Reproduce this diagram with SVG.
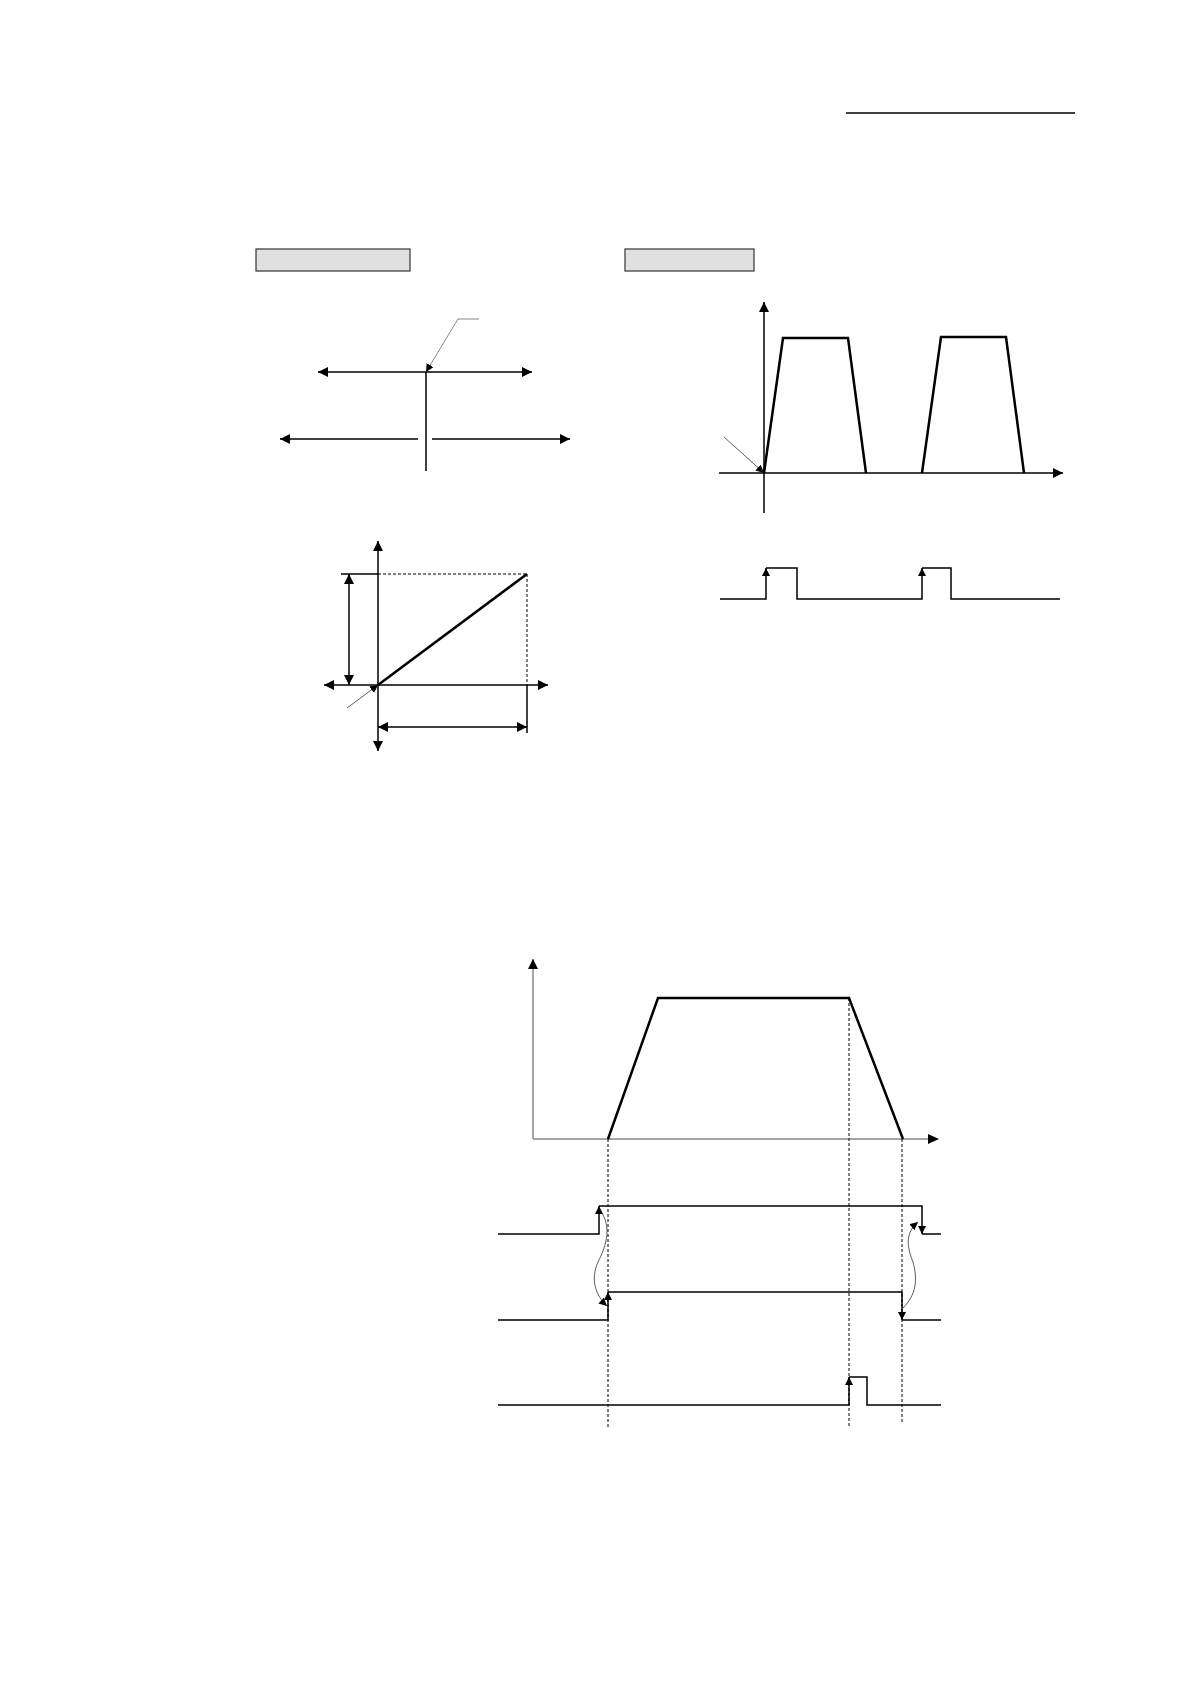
<svg xmlns="http://www.w3.org/2000/svg" width="1190" height="1684" viewBox="0 0 1190 1684">
<style>
.ln{fill:none;stroke:#000;stroke-width:1.5}
.thk{fill:none;stroke:#000;stroke-width:2.5;stroke-linejoin:miter}
.thin{fill:none;stroke:#333;stroke-width:0.8}
.gray{fill:none;stroke:#888;stroke-width:1.5}
.dash{fill:none;stroke:#000;stroke-width:1;stroke-dasharray:3,2}
.box{fill:#e0e0e0;stroke:#333;stroke-width:1.2}
</style>
<defs>
<marker id="ah" viewBox="0 0 10 10" refX="10" refY="5" markerWidth="10" markerHeight="10" markerUnits="userSpaceOnUse" orient="auto-start-reverse"><path d="M0,0 L10,5 L0,10 z" fill="#000"/></marker>
<marker id="as" viewBox="0 0 10 10" refX="10" refY="5" markerWidth="8" markerHeight="8" markerUnits="userSpaceOnUse" orient="auto-start-reverse"><path d="M0,0 L10,5 L0,10 z" fill="#000"/></marker>
</defs>
<line x1="846" y1="113" x2="1075" y2="113" stroke="#000" stroke-width="1.5"/>
<g id="box1"><rect class="box" x="256" y="249" width="154" height="22"/></g>
<g id="box2"><rect class="box" x="625" y="249" width="129" height="22"/></g>
<g id="fig1">
<line class="ln" x1="318" y1="372" x2="532" y2="372" marker-start="url(#ah)" marker-end="url(#ah)"/>
<line class="ln" x1="426" y1="372" x2="426" y2="471"/>
<line class="ln" x1="418" y1="439" x2="280" y2="439" marker-end="url(#ah)"/>
<line class="ln" x1="432" y1="439" x2="570" y2="439" marker-end="url(#ah)"/>
<polyline class="gray" style="stroke-width:1" points="479,319 458,319 426,372" marker-end="url(#as)"/>
</g>
<g id="fig2">
<line class="ln" x1="764" y1="513" x2="764" y2="302" marker-end="url(#ah)"/>
<line class="ln" x1="719" y1="473" x2="1063" y2="473" marker-end="url(#ah)"/>
<polyline class="thk" points="764,473 783,338 848,338 866,473"/>
<polyline class="thk" points="922,473 941,337 1006,337 1024,473"/>
<line class="thin" x1="724" y1="437" x2="764" y2="473" marker-end="url(#as)"/>
</g>
<g id="fig3">
<line class="ln" x1="378" y1="541" x2="378" y2="751" marker-start="url(#ah)" marker-end="url(#ah)"/>
<line class="ln" x1="324" y1="685" x2="548" y2="685" marker-start="url(#ah)" marker-end="url(#ah)"/>
<line class="thk" x1="378" y1="685" x2="527" y2="574"/>
<line class="ln" x1="341" y1="574" x2="378" y2="574"/>
<line class="dash" x1="378" y1="574" x2="527" y2="574"/>
<line class="dash" x1="527" y1="574" x2="527" y2="685"/>
<line class="ln" x1="527" y1="685" x2="527" y2="733"/>
<line class="ln" x1="349" y1="574" x2="349" y2="685" marker-start="url(#ah)" marker-end="url(#ah)"/>
<line class="ln" x1="378" y1="727" x2="527" y2="727" marker-start="url(#ah)" marker-end="url(#ah)"/>
<line class="thin" x1="347" y1="708" x2="378" y2="685" marker-end="url(#as)"/>
</g>
<g id="fig4">
<polyline class="ln" points="720,599 766,599 766,568"  marker-end="url(#as)"/>
<polyline class="ln" points="766,568 797,568 797,599 922,599 922,568" marker-end="url(#as)"/>
<polyline class="ln" points="922,568 951,568 951,599 1060,599"/>
</g>
<g id="fig5">
<line class="gray" x1="533" y1="1139" x2="533" y2="959"/>
<path d="M528,969 L533,959 L538,969 z" fill="#000"/>
<line class="gray" x1="533" y1="1139" x2="930" y2="1139"/>
<path d="M928,1134 L939,1139 L928,1144 z" fill="#000"/>
<polyline class="thk" points="608,1139 658,998 849,998 903,1139"/>
</g>
<g id="connectors">
<line class="dash" x1="608" y1="1139" x2="608" y2="1429"/>
<line class="dash" x1="849" y1="998" x2="849" y2="1426"/>
<line class="dash" x1="902" y1="1139" x2="902" y2="1424"/>
<polyline class="ln" points="498,1234 599,1234 599,1206" marker-end="url(#as)"/>
<polyline class="ln" points="599,1206 922,1206 922,1234" marker-end="url(#as)"/>
<line class="ln" x1="922" y1="1234" x2="941" y2="1234"/>
<polyline class="ln" points="498,1320 608,1320 608,1292" marker-end="url(#as)"/>
<polyline class="ln" points="608,1292 902,1292 902,1320" marker-end="url(#as)"/>
<line class="ln" x1="902" y1="1320" x2="941" y2="1320"/>
<polyline class="ln" points="498,1405 849,1405 849,1377" marker-end="url(#as)"/>
<polyline class="ln" points="849,1377 867,1377 867,1405 941,1405"/>
<path class="thin" d="M602,1213 C612,1230 605,1248 598,1262 C590,1280 596,1296 607,1306" marker-end="url(#as)"/>
<path class="thin" d="M903,1308 C916,1295 918,1280 913,1262 C906,1245 906,1232 918,1222" marker-end="url(#as)"/>
</g>
</svg>
